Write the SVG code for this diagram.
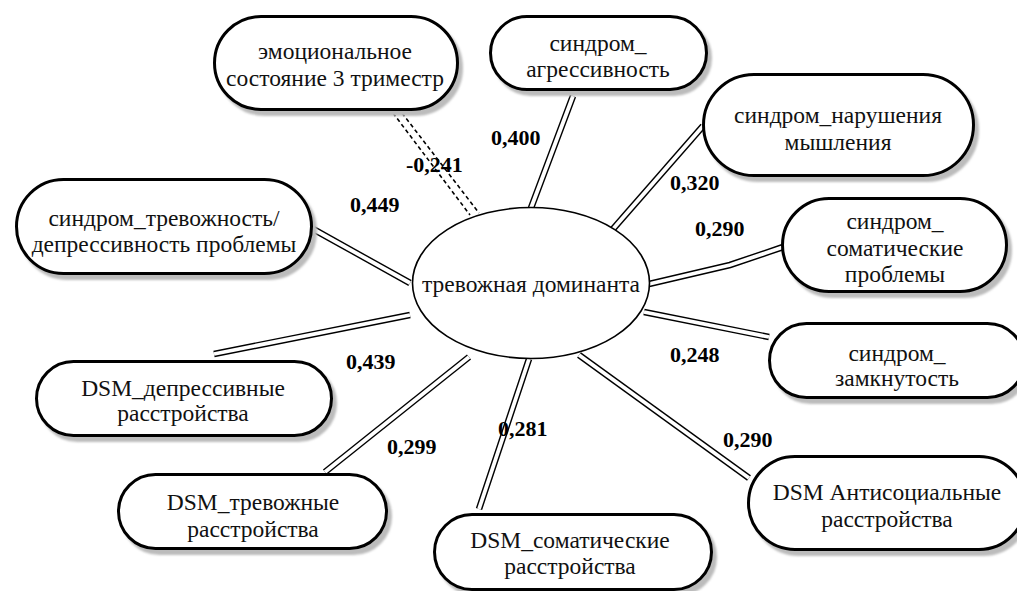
<svg xmlns="http://www.w3.org/2000/svg" width="1017" height="591" viewBox="0 0 1017 591">
<defs>
<filter id="blur" x="-10%" y="-10%" width="120%" height="120%"><feGaussianBlur stdDeviation="1.2"/></filter>
<style>
.sh{fill:#bcbcbc;stroke:#bcbcbc;stroke-width:3;filter:url(#blur)}
.box{fill:#fff;stroke:#000;stroke-width:3}
.t{font-family:'Liberation Serif','DejaVu Serif',serif;font-size:23.5px;fill:#111;text-anchor:middle}
.lb{font-family:'Liberation Serif','DejaVu Serif',serif;font-size:22px;font-weight:bold;fill:#000}
.o{fill:none;stroke:#000;stroke-width:6.6}
.i{fill:none;stroke:#fff;stroke-width:3.8}
.d{fill:none;stroke:#000;stroke-width:1.6;stroke-dasharray:4 3}
</style>
</defs>
<rect width="1017" height="591" fill="#fff"/>
<g id="connectors">
<path class="d" d="M393,113 L470,215"/>
<path class="d" d="M402,113 L479,213"/>
<path class="o" d="M573,96 L531,208"/><path class="i" d="M573,96 L531,208"/>
<path class="o" d="M703,126 L613,229"/><path class="i" d="M703,126 L613,229"/>
<path class="o" d="M649,284 L730,265 L786,246"/><path class="i" d="M649,284 L730,265 L786,246"/>
<path class="o" d="M644,312 L769,337"/><path class="i" d="M644,312 L769,337"/>
<path class="o" d="M579,355 L749,478"/><path class="i" d="M579,355 L749,478"/>
<path class="o" d="M529,359 L479,509"/><path class="i" d="M529,359 L479,509"/>
<path class="o" d="M469,357 L325,472"/><path class="i" d="M469,357 L325,472"/>
<path class="o" d="M410,315 L214,354"/><path class="i" d="M410,315 L214,354"/>
<path class="o" d="M313,229 L410,283"/><path class="i" d="M313,229 L410,283"/>
</g>
<g id="center">
<ellipse cx="531" cy="283" rx="118.5" ry="75.5" fill="#fff" stroke="#000" stroke-width="1.6"/>
<text class="t" x="531" y="292">тревожная доминанта</text>
</g>
<g id="n1">
<rect class="sh" x="218.5" y="21.5" width="243" height="93" rx="46.5"/>
<rect class="box" x="214.5" y="16.5" width="243" height="93" rx="46.5"/>
<text class="t" x="335" y="59">эмоциональное</text>
<text class="t" x="335" y="86">состояние 3 триместр</text>
</g>
<g id="n2">
<rect class="sh" x="494.5" y="21.5" width="216" height="73" rx="36.5"/>
<rect class="box" x="490.5" y="16.5" width="216" height="73" rx="36.5"/>
<text class="t" x="598" y="51">синдром_</text>
<text class="t" x="598" y="77">агрессивность</text>
</g>
<g id="n3">
<rect class="sh" x="707.5" y="79.5" width="270" height="101" rx="50.5"/>
<rect class="box" x="703.5" y="74.5" width="270" height="101" rx="50.5"/>
<text class="t" x="838" y="123">синдром_нарушения</text>
<text class="t" x="838" y="150">мышления</text>
</g>
<g id="n4">
<rect class="sh" x="786.5" y="203.5" width="224" height="93" rx="46.5"/>
<rect class="box" x="782.5" y="198.5" width="224" height="93" rx="46.5"/>
<text class="t" x="895" y="229">синдром_</text>
<text class="t" x="895" y="256">соматические</text>
<text class="t" x="895" y="282">проблемы</text>
</g>
<g id="n5">
<rect class="sh" x="773.5" y="328.5" width="255" height="74" rx="37"/>
<rect class="box" x="769.5" y="323.5" width="255" height="74" rx="37"/>
<text class="t" x="897" y="361">синдром_</text>
<text class="t" x="897" y="386">замкнутость</text>
</g>
<g id="n6">
<rect class="sh" x="752.5" y="461.5" width="277" height="93" rx="46.5"/>
<rect class="box" x="748.5" y="456.5" width="277" height="93" rx="46.5"/>
<text class="t" x="887" y="500">DSM Антисоциальные</text>
<text class="t" x="887" y="527">расстройства</text>
</g>
<g id="n7">
<rect class="sh" x="438.5" y="519.5" width="277" height="75" rx="37.5"/>
<rect class="box" x="434.5" y="514.5" width="277" height="75" rx="37.5"/>
<text class="t" x="570" y="548">DSM_соматические</text>
<text class="t" x="570" y="574">расстройства</text>
</g>
<g id="n8">
<rect class="sh" x="122.5" y="479.5" width="268" height="74" rx="37"/>
<rect class="box" x="118.5" y="474.5" width="268" height="74" rx="37"/>
<text class="t" x="253" y="510">DSM_тревожные</text>
<text class="t" x="253" y="537">расстройства</text>
</g>
<g id="n9">
<rect class="sh" x="40.5" y="366.5" width="295" height="74" rx="37"/>
<rect class="box" x="36.5" y="361.5" width="295" height="74" rx="37"/>
<text class="t" x="183" y="396">DSM_депрессивные</text>
<text class="t" x="183" y="421">расстройства</text>
</g>
<g id="n10">
<rect class="sh" x="20.5" y="184.5" width="295" height="94" rx="47"/>
<rect class="box" x="16.5" y="179.5" width="295" height="94" rx="47"/>
<text class="t" x="164" y="226">синдром_тревожность/</text>
<text class="t" x="164" y="252">депрессивность проблемы</text>
</g>
<g id="labels">
<text class="lb" x="491" y="145">0,400</text>
<text class="lb" x="406" y="172">-0,241</text>
<text class="lb" x="350" y="212">0,449</text>
<text class="lb" x="670" y="190">0,320</text>
<text class="lb" x="695" y="236">0,290</text>
<text class="lb" x="670" y="362">0,248</text>
<text class="lb" x="346" y="369">0,439</text>
<text class="lb" x="387" y="454">0,299</text>
<text class="lb" x="498" y="436">0,281</text>
<text class="lb" x="723" y="447">0,290</text>
</g>
</svg>
